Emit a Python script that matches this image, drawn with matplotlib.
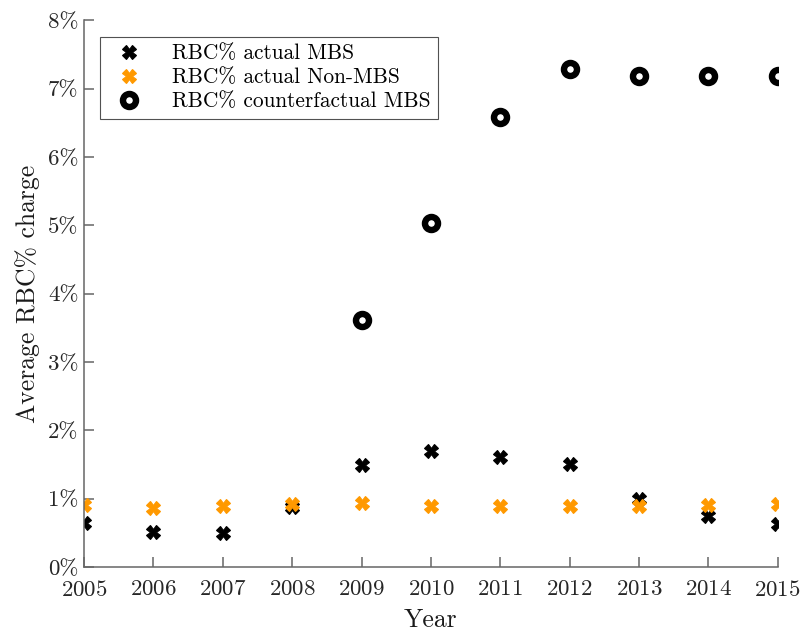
import matplotlib
matplotlib.use("Agg")
import matplotlib.pyplot as plt
from matplotlib.ticker import FuncFormatter

plt.rcParams['font.family'] = ['cmr10', 'DejaVu Serif']
plt.rcParams['axes.formatter.use_mathtext'] = True
plt.rcParams['mathtext.fontset'] = 'cm'

years = [2005, 2006, 2007, 2008, 2009, 2010, 2011, 2012, 2013, 2014, 2015]
mbs_actual = [0.64, 0.51, 0.50, 0.88, 1.49, 1.70, 1.61, 1.51, 0.99, 0.75, 0.63]
nonmbs_actual = [0.91, 0.86, 0.89, 0.92, 0.94, 0.89, 0.89, 0.89, 0.89, 0.91, 0.92]
cf_years = [2009, 2010, 2011, 2012, 2013, 2014, 2015]
mbs_counterfactual = [3.62, 5.03, 6.59, 7.29, 7.19, 7.19, 7.19]

fig = plt.figure(figsize=(8.01, 6.3), dpi=100)
ax = fig.add_axes([0.105, 0.1, 0.866, 0.868])

ax.plot(years, mbs_actual, 'X', color='black', markersize=9.8, markeredgewidth=0.8,
        linestyle='none', label='RBC% actual MBS')
ax.plot(years, nonmbs_actual, 'X', color='#ff9900', markersize=9.8, markeredgewidth=0.8,
        linestyle='none', label='RBC% actual Non-MBS')
ax.plot(cf_years, mbs_counterfactual, 'o', markerfacecolor='white', markeredgecolor='black',
        markersize=9.4, markeredgewidth=4.6, linestyle='none', label='RBC% counterfactual MBS')

ax.set_xlim(2005, 2015)
ax.set_ylim(0, 8)
ax.set_xticks(years)
ax.set_yticks(range(0, 9))
ax.yaxis.set_major_formatter(FuncFormatter(lambda v, p: '%d%%' % v))

for s in ['top', 'right']:
    ax.spines[s].set_visible(False)
for s in ['left', 'bottom']:
    ax.spines[s].set_color('#666666')
    ax.spines[s].set_linewidth(1.1)
ax.tick_params(direction='in', length=7, width=1.1, color='#666666',
               labelcolor='#262626', labelsize=16.5)
ax.tick_params(axis='x', pad=9)
ax.tick_params(axis='y', pad=4)

ax.set_xlabel('Year', fontsize=18.5, color='#1a1a1a', labelpad=6)
ax.set_ylabel('Average RBC% charge', fontsize=18.5, color='#1a1a1a', labelpad=6)

leg = ax.legend(loc='upper left', bbox_to_anchor=(0.023, 0.97), fontsize=15.4,
                frameon=True, fancybox=False, edgecolor='#262626', borderpad=0.35,
                labelspacing=0.2, handletextpad=1.0, handlelength=2.0,
                borderaxespad=0)
leg.get_frame().set_linewidth(0.8)

fig.savefig('out.png', dpi=100)
